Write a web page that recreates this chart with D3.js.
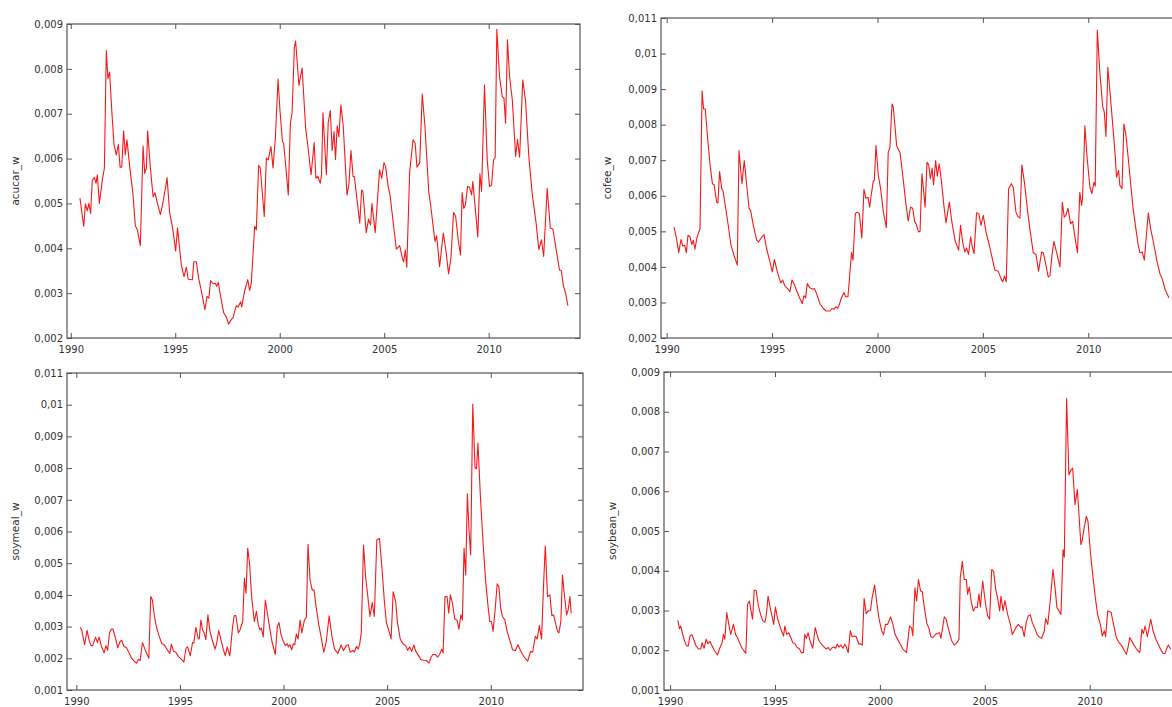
<!DOCTYPE html>
<html>
<head>
<meta charset="utf-8">
<script src="https://cdn.jsdelivr.net/npm/d3@7"></script>
<style>
  body { margin: 0; background: #fff; }
  .tick text { font-family: "DejaVu Sans", Verdana, sans-serif; font-size: 10px; fill: #333; }
  .tick line { stroke: #555; }
  .ylabel { font-family: "DejaVu Sans", Verdana, sans-serif; font-size: 10.5px; fill: #333; }
</style>
</head>
<body>
<script>
// series: [year, weight]
const acucar = [
  [1990.44,0.00512],[1990.62,0.00449],[1990.70,0.00499],[1990.79,0.00484],[1990.87,0.00500],[1990.95,0.00477],
  [1991.03,0.00551],[1991.13,0.00558],[1991.21,0.00545],[1991.27,0.00564],[1991.37,0.00500],[1991.51,0.00552],
  [1991.61,0.00579],[1991.70,0.00841],[1991.78,0.00778],[1991.86,0.00793],[1991.97,0.00701],[1992.07,0.00631],
  [1992.18,0.00608],[1992.28,0.00631],[1992.36,0.00581],[1992.44,0.00581],[1992.53,0.00662],[1992.61,0.00608],
  [1992.69,0.00642],[1992.82,0.00582],[1992.98,0.00519],[1993.09,0.00450],[1993.19,0.00441],[1993.33,0.00406],
  [1993.46,0.00628],[1993.54,0.00567],[1993.62,0.00579],[1993.68,0.00662],[1993.81,0.00579],[1993.94,0.00515],
  [1994.03,0.00524],[1994.14,0.00502],[1994.29,0.00475],[1994.41,0.00501],[1994.61,0.00557],[1994.73,0.00480],
  [1994.89,0.00441],[1995.02,0.00394],[1995.11,0.00445],[1995.29,0.00363],[1995.42,0.00337],[1995.53,0.00358],
  [1995.62,0.00331],[1995.82,0.00330],[1995.89,0.00370],[1996.01,0.00370],[1996.12,0.00333],[1996.26,0.00303],
  [1996.42,0.00263],[1996.52,0.00293],[1996.61,0.00289],[1996.69,0.00328],[1996.81,0.00321],[1996.92,0.00322],
  [1996.98,0.00315],[1997.06,0.00324],[1997.17,0.00293],[1997.32,0.00256],[1997.44,0.00248],[1997.55,0.00231],
  [1997.68,0.00241],[1997.76,0.00245],[1997.92,0.00272],[1998.01,0.00269],[1998.13,0.00281],[1998.18,0.00269],
  [1998.31,0.00303],[1998.47,0.00330],[1998.56,0.00306],[1998.64,0.00322],[1998.80,0.00449],[1998.88,0.00441],
  [1998.99,0.00585],[1999.07,0.00579],[1999.26,0.00471],[1999.36,0.00601],[1999.45,0.00597],[1999.58,0.00627],
  [1999.68,0.00579],[1999.79,0.00646],[1999.92,0.00777],[2000.01,0.00709],[2000.13,0.00638],[2000.19,0.00634],
  [2000.41,0.00519],[2000.51,0.00679],[2000.59,0.00701],[2000.70,0.00848],[2000.76,0.00862],[2000.92,0.00763],
  [2001.07,0.00802],[2001.24,0.00668],[2001.35,0.00627],[2001.50,0.00564],[2001.65,0.00636],[2001.73,0.00556],
  [2001.82,0.00561],[2001.94,0.00545],[2002.00,0.00564],[2002.07,0.00702],[2002.23,0.00564],[2002.32,0.00680],
  [2002.42,0.00707],[2002.51,0.00618],[2002.60,0.00660],[2002.67,0.00598],[2002.75,0.00673],[2002.83,0.00649],
  [2002.93,0.00720],[2003.04,0.00672],[2003.22,0.00519],[2003.31,0.00541],[2003.41,0.00618],[2003.51,0.00560],
  [2003.57,0.00560],[2003.70,0.00508],[2003.83,0.00456],[2003.92,0.00530],[2003.98,0.00527],[2004.14,0.00435],
  [2004.25,0.00465],[2004.35,0.00452],[2004.41,0.00500],[2004.57,0.00435],[2004.70,0.00523],[2004.78,0.00575],
  [2004.88,0.00556],[2004.99,0.00591],[2005.07,0.00582],[2005.18,0.00541],[2005.29,0.00515],[2005.45,0.00449],
  [2005.58,0.00398],[2005.74,0.00406],[2005.87,0.00378],[2005.93,0.00370],[2006.01,0.00396],[2006.08,0.00358],
  [2006.22,0.00571],[2006.38,0.00642],[2006.48,0.00634],[2006.57,0.00581],[2006.70,0.00591],[2006.82,0.00744],
  [2006.95,0.00672],[2007.13,0.00527],[2007.22,0.00497],[2007.33,0.00454],[2007.43,0.00415],[2007.51,0.00428],
  [2007.65,0.00359],[2007.83,0.00434],[2007.97,0.00389],[2008.08,0.00343],[2008.19,0.00376],[2008.32,0.00480],
  [2008.42,0.00471],[2008.54,0.00419],[2008.65,0.00385],[2008.73,0.00524],[2008.81,0.00489],[2008.89,0.00497],
  [2008.99,0.00538],[2009.08,0.00536],[2009.18,0.00519],[2009.24,0.00549],[2009.34,0.00499],[2009.48,0.00425],
  [2009.58,0.00566],[2009.66,0.00527],[2009.80,0.00764],[2009.93,0.00597],[2010.04,0.00538],[2010.14,0.00541],
  [2010.23,0.00597],[2010.31,0.00603],[2010.39,0.00888],[2010.52,0.00783],[2010.65,0.00738],[2010.73,0.00735],
  [2010.81,0.00679],[2010.90,0.00865],[2011.00,0.00783],[2011.13,0.00731],[2011.29,0.00605],[2011.38,0.00643],
  [2011.48,0.00603],[2011.63,0.00775],[2011.76,0.00731],[2011.92,0.00605],[2012.08,0.00523],[2012.27,0.00456],
  [2012.40,0.00397],[2012.53,0.00419],[2012.63,0.00382],[2012.80,0.00534],[2012.95,0.00445],[2013.07,0.00443],
  [2013.23,0.00397],[2013.39,0.00351],[2013.47,0.00351],[2013.58,0.00315],[2013.68,0.00300],[2013.79,0.00272]
];

const cofee = [
  [1990.35,0.00512],[1990.47,0.00478],[1990.57,0.00440],[1990.68,0.00477],[1990.76,0.00459],[1990.85,0.00461],
  [1990.93,0.00440],[1991.01,0.00489],[1991.11,0.00484],[1991.19,0.00463],[1991.26,0.00475],[1991.34,0.00450],
  [1991.44,0.00484],[1991.58,0.00507],[1991.68,0.00895],[1991.75,0.00844],[1991.83,0.00844],[1991.94,0.00764],
  [1992.06,0.00685],[1992.17,0.00634],[1992.25,0.00631],[1992.37,0.00582],[1992.43,0.00580],[1992.51,0.00668],
  [1992.61,0.00620],[1992.67,0.00615],[1992.80,0.00564],[1992.92,0.00517],[1993.05,0.00461],[1993.19,0.00433],
  [1993.35,0.00405],[1993.43,0.00727],[1993.57,0.00634],[1993.68,0.00699],[1993.79,0.00634],[1993.91,0.00564],
  [1993.98,0.00559],[1994.11,0.00517],[1994.27,0.00475],[1994.36,0.00470],[1994.51,0.00484],[1994.62,0.00491],
  [1994.74,0.00451],[1994.90,0.00414],[1995.01,0.00386],[1995.11,0.00421],[1995.25,0.00386],[1995.41,0.00355],
  [1995.50,0.00363],[1995.61,0.00346],[1995.77,0.00337],[1995.85,0.00330],[1995.94,0.00363],[1996.06,0.00350],
  [1996.17,0.00332],[1996.32,0.00311],[1996.43,0.00297],[1996.51,0.00319],[1996.59,0.00313],[1996.67,0.00353],
  [1996.80,0.00341],[1996.92,0.00337],[1997.00,0.00339],[1997.11,0.00325],[1997.27,0.00297],[1997.43,0.00283],
  [1997.56,0.00276],[1997.75,0.00276],[1997.84,0.00283],[1997.94,0.00281],[1998.03,0.00288],[1998.11,0.00283],
  [1998.19,0.00294],[1998.28,0.00311],[1998.41,0.00328],[1998.49,0.00316],[1998.60,0.00316],[1998.77,0.00440],
  [1998.84,0.00419],[1998.95,0.00550],[1999.04,0.00554],[1999.14,0.00550],[1999.26,0.00481],[1999.36,0.00618],
  [1999.45,0.00593],[1999.55,0.00596],[1999.63,0.00568],[1999.69,0.00596],[1999.80,0.00641],[1999.85,0.00643],
  [1999.93,0.00741],[2000.04,0.00657],[2000.15,0.00620],[2000.28,0.00554],[2000.42,0.00510],[2000.51,0.00722],
  [2000.59,0.00736],[2000.69,0.00858],[2000.75,0.00849],[2000.91,0.00741],[2001.07,0.00722],[2001.19,0.00662],
  [2001.34,0.00582],[2001.46,0.00529],[2001.57,0.00568],[2001.67,0.00565],[2001.76,0.00528],[2001.83,0.00521],
  [2001.95,0.00498],[2002.02,0.00500],[2002.11,0.00662],[2002.26,0.00568],[2002.35,0.00694],[2002.43,0.00687],
  [2002.51,0.00648],[2002.59,0.00678],[2002.66,0.00631],[2002.76,0.00699],[2002.84,0.00655],[2002.93,0.00690],
  [2003.04,0.00638],[2003.15,0.00573],[2003.25,0.00524],[2003.41,0.00582],[2003.53,0.00526],[2003.69,0.00472],
  [2003.85,0.00447],[2003.94,0.00517],[2004.04,0.00470],[2004.14,0.00442],[2004.23,0.00453],[2004.32,0.00435],
  [2004.42,0.00484],[2004.50,0.00456],[2004.58,0.00437],[2004.70,0.00552],[2004.81,0.00549],[2004.91,0.00517],
  [2005.02,0.00545],[2005.15,0.00498],[2005.27,0.00470],[2005.41,0.00433],[2005.57,0.00391],[2005.73,0.00388],
  [2005.86,0.00367],[2005.94,0.00358],[2006.03,0.00374],[2006.11,0.00358],[2006.22,0.00620],[2006.35,0.00634],
  [2006.44,0.00624],[2006.57,0.00554],[2006.65,0.00542],[2006.76,0.00537],[2006.85,0.00687],[2006.98,0.00634],
  [2007.11,0.00564],[2007.23,0.00507],[2007.39,0.00440],[2007.52,0.00435],[2007.64,0.00388],[2007.79,0.00442],
  [2007.87,0.00440],[2007.99,0.00405],[2008.10,0.00372],[2008.18,0.00375],[2008.28,0.00433],[2008.37,0.00472],
  [2008.50,0.00440],[2008.66,0.00400],[2008.77,0.00582],[2008.86,0.00540],[2008.94,0.00545],[2009.04,0.00565],
  [2009.16,0.00521],[2009.26,0.00528],[2009.38,0.00479],[2009.49,0.00440],[2009.60,0.00610],[2009.68,0.00573],
  [2009.73,0.00593],[2009.84,0.00797],[2009.95,0.00704],[2010.08,0.00624],[2010.17,0.00606],[2010.27,0.00638],
  [2010.33,0.00627],[2010.43,0.01066],[2010.55,0.00947],[2010.68,0.00853],[2010.76,0.00835],[2010.84,0.00767],
  [2010.93,0.00961],[2011.06,0.00872],[2011.19,0.00779],[2011.28,0.00713],[2011.34,0.00652],[2011.44,0.00671],
  [2011.50,0.00629],[2011.60,0.00620],[2011.69,0.00802],[2011.79,0.00769],[2011.90,0.00704],[2012.02,0.00629],
  [2012.13,0.00564],[2012.26,0.00507],[2012.37,0.00461],[2012.45,0.00440],[2012.56,0.00442],[2012.66,0.00419],
  [2012.77,0.00498],[2012.85,0.00552],[2012.96,0.00507],[2013.09,0.00470],[2013.25,0.00419],[2013.40,0.00381],
  [2013.53,0.00363],[2013.65,0.00335],[2013.83,0.00313]
];

const soymeal = [
  [1990.18,0.00298],[1990.26,0.00290],[1990.32,0.00269],[1990.40,0.00243],[1990.52,0.00288],[1990.61,0.00259],
  [1990.71,0.00240],[1990.79,0.00240],[1990.93,0.00267],[1991.02,0.00250],[1991.10,0.00267],[1991.21,0.00238],
  [1991.34,0.00217],[1991.43,0.00240],[1991.51,0.00225],[1991.60,0.00280],[1991.69,0.00292],[1991.77,0.00292],
  [1991.90,0.00261],[1992.00,0.00233],[1992.11,0.00253],[1992.19,0.00257],[1992.29,0.00238],[1992.42,0.00233],
  [1992.55,0.00217],[1992.66,0.00201],[1992.79,0.00191],[1992.90,0.00185],[1993.00,0.00196],[1993.08,0.00193],
  [1993.19,0.00250],[1993.35,0.00222],[1993.50,0.00200],[1993.59,0.00395],[1993.67,0.00384],[1993.77,0.00332],
  [1993.87,0.00298],[1994.00,0.00269],[1994.13,0.00246],[1994.24,0.00243],[1994.37,0.00229],[1994.51,0.00215],
  [1994.59,0.00245],[1994.69,0.00222],[1994.80,0.00219],[1994.92,0.00206],[1995.04,0.00199],[1995.19,0.00188],
  [1995.29,0.00231],[1995.37,0.00236],[1995.50,0.00208],[1995.61,0.00250],[1995.67,0.00248],[1995.77,0.00298],
  [1995.87,0.00264],[1995.93,0.00261],[1996.01,0.00321],[1996.09,0.00290],[1996.17,0.00280],[1996.25,0.00259],
  [1996.35,0.00337],[1996.45,0.00285],[1996.58,0.00253],[1996.69,0.00229],[1996.77,0.00246],[1996.87,0.00288],
  [1996.98,0.00259],[1997.09,0.00229],[1997.19,0.00208],[1997.28,0.00236],[1997.41,0.00208],[1997.54,0.00300],
  [1997.62,0.00334],[1997.70,0.00335],[1997.82,0.00280],[1997.90,0.00290],[1998.03,0.00316],[1998.11,0.00452],
  [1998.19,0.00405],[1998.27,0.00547],[1998.36,0.00499],[1998.46,0.00395],[1998.59,0.00316],[1998.69,0.00348],
  [1998.78,0.00306],[1998.86,0.00290],[1998.93,0.00295],[1999.02,0.00267],[1999.12,0.00384],[1999.22,0.00342],
  [1999.32,0.00300],[1999.44,0.00253],[1999.60,0.00212],[1999.70,0.00300],[1999.78,0.00313],[1999.88,0.00274],
  [1999.99,0.00253],[2000.09,0.00240],[2000.18,0.00246],[2000.23,0.00236],[2000.31,0.00243],[2000.39,0.00227],
  [2000.48,0.00246],[2000.54,0.00243],[2000.62,0.00277],[2000.70,0.00261],[2000.80,0.00321],[2000.88,0.00280],
  [2001.01,0.00321],[2001.10,0.00330],[2001.18,0.00560],[2001.28,0.00447],[2001.38,0.00416],[2001.47,0.00416],
  [2001.57,0.00363],[2001.70,0.00306],[2001.83,0.00261],[2001.94,0.00219],[2002.06,0.00253],[2002.20,0.00334],
  [2002.33,0.00271],[2002.46,0.00229],[2002.62,0.00215],[2002.78,0.00242],[2002.89,0.00224],[2003.02,0.00240],
  [2003.12,0.00243],[2003.22,0.00219],[2003.35,0.00225],[2003.41,0.00219],[2003.52,0.00238],[2003.60,0.00229],
  [2003.67,0.00243],[2003.75,0.00280],[2003.86,0.00557],[2003.96,0.00458],[2004.05,0.00405],[2004.17,0.00332],
  [2004.28,0.00376],[2004.38,0.00332],[2004.50,0.00573],[2004.63,0.00578],[2004.75,0.00484],[2004.86,0.00384],
  [2004.96,0.00313],[2005.07,0.00290],[2005.19,0.00261],[2005.29,0.00410],[2005.41,0.00379],[2005.50,0.00311],
  [2005.63,0.00261],[2005.76,0.00246],[2005.89,0.00240],[2005.99,0.00225],[2006.08,0.00236],[2006.18,0.00222],
  [2006.29,0.00242],[2006.38,0.00222],[2006.50,0.00210],[2006.62,0.00196],[2006.76,0.00194],[2006.89,0.00193],
  [2007.02,0.00185],[2007.12,0.00204],[2007.21,0.00212],[2007.32,0.00212],[2007.44,0.00204],[2007.53,0.00212],
  [2007.63,0.00229],[2007.70,0.00217],[2007.79,0.00395],[2007.89,0.00395],[2007.97,0.00342],[2008.05,0.00400],
  [2008.15,0.00374],[2008.26,0.00324],[2008.37,0.00321],[2008.46,0.00292],[2008.56,0.00337],[2008.63,0.00321],
  [2008.71,0.00547],[2008.79,0.00463],[2008.87,0.00719],[2008.95,0.00604],[2009.03,0.00526],[2009.13,0.01002],
  [2009.24,0.00801],[2009.31,0.00798],[2009.38,0.00879],[2009.50,0.00709],[2009.63,0.00562],[2009.76,0.00437],
  [2009.87,0.00363],[2009.95,0.00316],[2010.03,0.00316],[2010.11,0.00285],[2010.21,0.00353],[2010.31,0.00435],
  [2010.39,0.00426],[2010.48,0.00358],[2010.56,0.00332],[2010.68,0.00321],[2010.79,0.00285],[2010.92,0.00257],
  [2011.05,0.00227],[2011.18,0.00224],[2011.31,0.00243],[2011.42,0.00227],[2011.53,0.00212],[2011.65,0.00201],
  [2011.78,0.00191],[2011.92,0.00222],[2012.02,0.00219],[2012.15,0.00269],[2012.24,0.00261],[2012.34,0.00303],
  [2012.45,0.00261],[2012.55,0.00437],[2012.63,0.00554],[2012.74,0.00395],[2012.85,0.00400],[2012.95,0.00334],
  [2013.03,0.00337],[2013.14,0.00306],[2013.22,0.00285],[2013.29,0.00280],[2013.38,0.00316],[2013.46,0.00463],
  [2013.56,0.00395],[2013.66,0.00337],[2013.74,0.00355],[2013.82,0.00395],[2013.88,0.00342]
];

const soybean = [
  [1990.37,0.00275],[1990.45,0.00254],[1990.51,0.00261],[1990.60,0.00240],[1990.70,0.00222],[1990.79,0.00211],
  [1990.87,0.00211],[1990.95,0.00236],[1991.05,0.00239],[1991.14,0.00225],[1991.24,0.00211],[1991.37,0.00203],
  [1991.46,0.00203],[1991.53,0.00219],[1991.62,0.00205],[1991.72,0.00228],[1991.80,0.00217],[1991.91,0.00222],
  [1992.00,0.00211],[1992.13,0.00198],[1992.26,0.00188],[1992.35,0.00203],[1992.48,0.00219],[1992.54,0.00240],
  [1992.61,0.00228],[1992.70,0.00295],[1992.80,0.00265],[1992.89,0.00240],[1993.02,0.00265],[1993.12,0.00240],
  [1993.21,0.00232],[1993.31,0.00219],[1993.43,0.00205],[1993.61,0.00192],[1993.69,0.00315],[1993.78,0.00324],
  [1993.86,0.00299],[1993.93,0.00278],[1994.01,0.00351],[1994.10,0.00351],[1994.20,0.00315],[1994.31,0.00290],
  [1994.42,0.00274],[1994.52,0.00270],[1994.59,0.00290],[1994.67,0.00336],[1994.77,0.00307],[1994.86,0.00286],
  [1994.94,0.00265],[1995.02,0.00309],[1995.12,0.00280],[1995.21,0.00265],[1995.31,0.00249],[1995.41,0.00236],
  [1995.47,0.00261],[1995.56,0.00240],[1995.66,0.00244],[1995.74,0.00234],[1995.85,0.00219],[1995.95,0.00217],
  [1996.04,0.00208],[1996.17,0.00203],[1996.26,0.00194],[1996.36,0.00194],[1996.42,0.00240],[1996.50,0.00230],
  [1996.58,0.00244],[1996.68,0.00222],[1996.80,0.00205],[1996.92,0.00257],[1997.03,0.00234],[1997.12,0.00222],
  [1997.22,0.00215],[1997.35,0.00208],[1997.44,0.00203],[1997.54,0.00207],[1997.63,0.00200],[1997.73,0.00207],
  [1997.81,0.00208],[1997.89,0.00205],[1997.97,0.00215],[1998.04,0.00208],[1998.14,0.00213],[1998.24,0.00205],
  [1998.33,0.00215],[1998.41,0.00207],[1998.49,0.00194],[1998.59,0.00249],[1998.68,0.00234],[1998.78,0.00236],
  [1998.87,0.00234],[1999.00,0.00215],[1999.06,0.00217],[1999.16,0.00213],[1999.25,0.00330],[1999.35,0.00292],
  [1999.44,0.00299],[1999.55,0.00300],[1999.63,0.00332],[1999.75,0.00364],[1999.86,0.00317],[1999.95,0.00282],
  [2000.08,0.00250],[2000.17,0.00239],[2000.27,0.00265],[2000.37,0.00265],[2000.51,0.00284],[2000.62,0.00265],
  [2000.72,0.00240],[2000.84,0.00228],[2000.97,0.00215],[2001.10,0.00203],[2001.27,0.00194],[2001.41,0.00261],
  [2001.51,0.00257],[2001.57,0.00236],[2001.67,0.00357],[2001.75,0.00324],[2001.84,0.00378],[2001.94,0.00349],
  [2002.02,0.00347],[2002.11,0.00311],[2002.24,0.00267],[2002.34,0.00255],[2002.43,0.00234],[2002.53,0.00232],
  [2002.65,0.00240],[2002.75,0.00242],[2002.84,0.00244],[2002.91,0.00230],[2003.07,0.00284],[2003.16,0.00278],
  [2003.29,0.00249],[2003.42,0.00224],[2003.55,0.00213],[2003.67,0.00219],[2003.77,0.00228],[2003.83,0.00382],
  [2003.93,0.00424],[2004.02,0.00378],[2004.12,0.00378],[2004.18,0.00341],[2004.26,0.00359],[2004.35,0.00324],
  [2004.45,0.00299],[2004.55,0.00309],[2004.64,0.00307],[2004.72,0.00342],[2004.79,0.00309],[2004.90,0.00374],
  [2005.04,0.00315],[2005.14,0.00286],[2005.23,0.00278],[2005.33,0.00403],[2005.42,0.00399],[2005.52,0.00353],
  [2005.61,0.00332],[2005.71,0.00299],[2005.77,0.00336],[2005.87,0.00299],[2005.96,0.00325],[2006.09,0.00290],
  [2006.22,0.00265],[2006.31,0.00240],[2006.41,0.00249],[2006.50,0.00259],[2006.60,0.00265],[2006.72,0.00257],
  [2006.78,0.00259],[2006.88,0.00234],[2006.98,0.00272],[2007.07,0.00286],[2007.17,0.00289],[2007.26,0.00270],
  [2007.39,0.00255],[2007.49,0.00240],[2007.58,0.00234],[2007.71,0.00230],[2007.84,0.00249],[2007.90,0.00280],
  [2008.00,0.00265],[2008.12,0.00324],[2008.25,0.00403],[2008.35,0.00357],[2008.44,0.00307],[2008.54,0.00299],
  [2008.63,0.00290],[2008.73,0.00453],[2008.79,0.00434],[2008.90,0.00833],[2009.01,0.00641],[2009.11,0.00654],
  [2009.19,0.00658],[2009.30,0.00566],[2009.41,0.00604],[2009.49,0.00541],[2009.58,0.00466],[2009.65,0.00478],
  [2009.74,0.00509],[2009.84,0.00537],[2009.92,0.00524],[2010.03,0.00449],[2010.16,0.00382],[2010.29,0.00324],
  [2010.38,0.00289],[2010.51,0.00265],[2010.60,0.00236],[2010.70,0.00249],[2010.76,0.00234],[2010.86,0.00299],
  [2011.02,0.00295],[2011.14,0.00265],[2011.27,0.00232],[2011.40,0.00219],[2011.53,0.00211],[2011.66,0.00198],
  [2011.75,0.00190],[2011.83,0.00208],[2011.91,0.00232],[2012.00,0.00224],[2012.11,0.00213],[2012.23,0.00203],
  [2012.39,0.00194],[2012.49,0.00253],[2012.56,0.00242],[2012.64,0.00261],[2012.75,0.00234],[2012.91,0.00278],
  [2013.02,0.00249],[2013.15,0.00228],[2013.27,0.00215],[2013.37,0.00203],[2013.50,0.00192],[2013.59,0.00192],
  [2013.69,0.00207],[2013.75,0.00213],[2013.86,0.00203]
];

const yearTicks = [1990, 1995, 2000, 2005, 2010];

const WIDTH = 1172;
const HEIGHT = 707;
const TICK = 5;

// one entry per panel: series, axis ranges and where the frame sits
const panels = [
  {label: 'acucar_w', data: acucar, y: [0.002, 0.009], x: [1989.82, 2014.37],
   left: 67, right: 580, top: 24, bottom: 338, labelX: 15},
  {label: 'cofee_w', data: cofee, y: [0.002, 0.011], x: [1989.73, 2014.40],
   left: 661, right: 1181, top: 18, bottom: 338, labelX: 607},
  {label: 'soymeal_w', data: soymeal, y: [0.001, 0.011], x: [1989.55, 2014.45],
   left: 67, right: 583, top: 373, bottom: 690, labelX: 15},
  {label: 'soybean_w', data: soybean, y: [0.001, 0.009], x: [1989.71, 2014.40],
   left: 664, right: 1182, top: 372, bottom: 690, labelX: 612}
];

var fmt = function (v) {
  return d3.format('.3~f')(v).replace('.', ',');
};

var svg = d3.select('body').append('svg')
    .attr('width', WIDTH)
    .attr('height', HEIGHT);

svg.append('rect')
    .attr('width', WIDTH)
    .attr('height', HEIGHT)
    .attr('fill', '#fff');

var drawPanel = function (p) {
  var xScale = d3.scaleLinear().domain(p.x).range([p.left, p.right]);
  var yScale = d3.scaleLinear().domain(p.y).range([p.bottom, p.top]);
  var yTicks = d3.range(Math.round(p.y[0] * 1000), Math.round(p.y[1] * 1000) + 1)
      .map(function (d) { return d / 1000; });

  var g = svg.append('g');

  g.append('g')
      .attr('transform', 'translate(0,' + p.bottom + ')')
      .call(d3.axisBottom(xScale).tickValues(yearTicks).tickFormat(d3.format('d'))
        .tickSizeInner(-TICK).tickSizeOuter(0).tickPadding(8))
      .call(function (a) { a.select('.domain').remove(); });

  g.append('g')
      .attr('transform', 'translate(0,' + p.top + ')')
      .call(d3.axisTop(xScale).tickValues(yearTicks).tickFormat('')
        .tickSizeInner(-TICK).tickSizeOuter(0))
      .call(function (a) { a.select('.domain').remove(); });

  g.append('g')
      .attr('transform', 'translate(' + p.left + ',0)')
      .call(d3.axisLeft(yScale).tickValues(yTicks).tickFormat(fmt)
        .tickSizeInner(-TICK).tickSizeOuter(0).tickPadding(4))
      .call(function (a) { a.select('.domain').remove(); });

  g.append('g')
      .attr('transform', 'translate(' + p.right + ',0)')
      .call(d3.axisRight(yScale).tickValues(yTicks).tickFormat('')
        .tickSizeInner(-TICK).tickSizeOuter(0))
      .call(function (a) { a.select('.domain').remove(); });

  g.append('rect')
      .attr('x', p.left)
      .attr('y', p.top)
      .attr('width', p.right - p.left)
      .attr('height', p.bottom - p.top)
      .attr('fill', 'none')
      .attr('stroke', '#555')
      .attr('stroke-width', 1.2);

  var line = d3.line()
      .x(function (d) { return xScale(d[0]); })
      .y(function (d) { return yScale(d[1]); });

  g.append('path')
      .datum(p.data)
      .attr('d', line)
      .attr('fill', 'none')
      .attr('stroke', '#f51a1a')
      .attr('stroke-width', 1.1)
      .attr('stroke-linejoin', 'round');

  var cy = (p.top + p.bottom) / 2;
  g.append('text')
      .attr('class', 'ylabel')
      .attr('transform', 'translate(' + p.labelX + ',' + cy + ') rotate(-90)')
      .attr('text-anchor', 'middle')
      .attr('dy', '0.35em')
      .text(p.label);
};

panels.forEach(drawPanel);
</script>
</body>
</html>
